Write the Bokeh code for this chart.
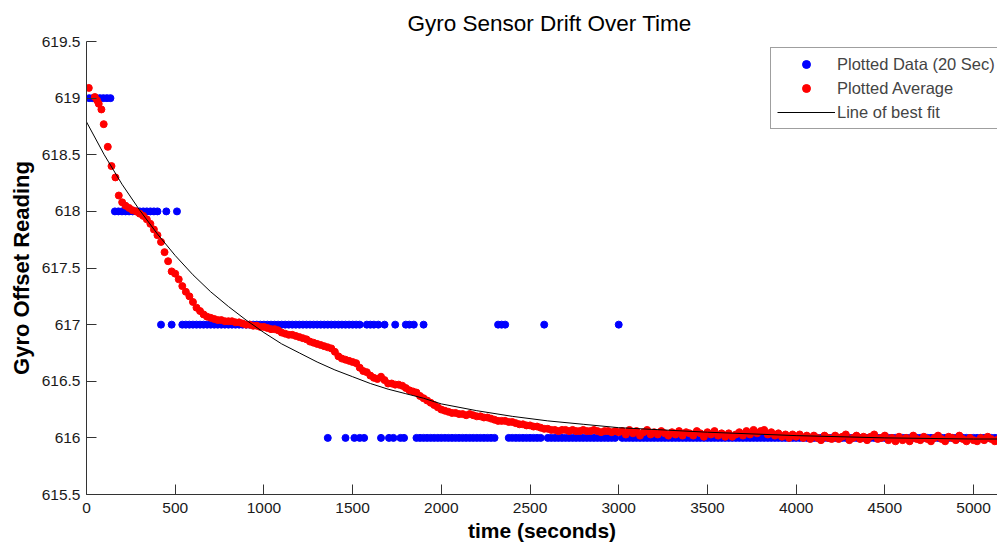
from bokeh.plotting import figure
from bokeh.models import FixedTicker, CustomJSTickFormatter
from bokeh.embed import file_html
from bokeh.resources import INLINE

# ---------------- data ----------------
title_text = "Gyro Sensor Drift Over Time"
x_label = "time (seconds)"
y_label = "Gyro Offset Reading"
legend_labels = ["Plotted Data (20 Sec)", "Plotted Average", "Line of best fit"]

x_ticks = [0, 500, 1000, 1500, 2000, 2500, 3000, 3500, 4000, 4500, 5000]
y_ticks = [615.5, 616, 616.5, 617, 617.5, 618, 618.5, 619, 619.5]

# raw readings (integer levels) - times (s) at which each level was read
blue_t_619 = [15, 35, 55, 75, 95, 115, 135]
blue_t_618 = [160, 180, 200, 220, 240, 260, 280, 300, 320, 340, 360, 380, 400, 450, 510]
blue_t_617 = [420, 480,
              540, 560, 580, 600, 620, 640, 660, 680, 700, 720,
              740, 760, 780, 800, 820, 840, 860, 880, 900, 920,
              940, 960, 980, 1000, 1020, 1040, 1060, 1080, 1100, 1120,
              1140, 1160, 1180, 1200, 1220, 1240, 1260, 1280, 1300, 1320,
              1340, 1360, 1380, 1400, 1420, 1440, 1460, 1480, 1500, 1520, 1540,
              1580, 1600, 1620, 1645, 1680, 1740, 1800, 1820, 1845, 1900,
              2320, 2340, 2360, 2580, 3000]
blue_t_616 = [1360, 1460, 1510, 1540, 1565, 1660, 1705, 1730, 1770, 1790,
              1860, 1880, 1900, 1920, 1940, 1960, 1980, 2000,
              2020, 2040, 2060, 2080, 2100, 2120, 2140, 2160, 2180, 2200,
              2220, 2240, 2260, 2280, 2300, 2380, 2400,
              2420, 2440, 2460, 2480, 2500, 2520, 2540, 2560, 2600,
              2620, 2640, 2660, 2680, 2700, 2720, 2740, 2760, 2780, 2800,
              2820, 2840, 2860, 2880, 2900, 2920, 2940, 2960, 2980,
              3020, 3040, 3060, 3080, 3100, 3120, 3140, 3160, 3180, 3200,
              3220, 3240, 3260, 3280, 3300, 3320, 3340, 3360, 3380, 3400,
              3420, 3440, 3460, 3480, 3500, 3520, 3540, 3560, 3580, 3600,
              3620, 3640, 3660, 3680, 3700, 3720, 3740, 3760, 3780, 3800,
              3820, 3840, 3860, 3880, 3900, 3920, 3940, 3960, 3980, 4000,
              4020, 4040, 4060, 4080, 4100, 4120, 4140, 4160, 4180, 4200,
              4220, 4240, 4260, 4280, 4300, 4320, 4340, 4360, 4380, 4400,
              4420, 4440, 4460, 4480, 4500, 4520, 4540, 4560, 4580, 4600,
              4620, 4640, 4660, 4680, 4700, 4720, 4740, 4760, 4780, 4800,
              4820, 4840, 4860, 4880, 4900, 4920, 4940, 4960, 4980, 5000,
              5020, 5040, 5060, 5080, 5100, 5120, 5140]

# running average
red_time = [13, 47, 60, 69, 84, 97, 120, 141, 163, 182, 201,
            220, 240, 260, 280, 300, 320, 340, 360, 380, 400,
            420, 440, 460, 480, 500, 520, 540, 560, 580, 600,
            620, 640, 660, 680, 700, 720, 740, 760, 780, 800,
            820, 840, 860, 880, 900, 920, 940, 960, 980, 1000,
            1020, 1040, 1060, 1080, 1100, 1120, 1140, 1160, 1180, 1200,
            1220, 1240, 1260, 1280, 1300, 1320, 1340, 1360, 1380, 1400,
            1420, 1440, 1460, 1480, 1500, 1520, 1540, 1560, 1580, 1600,
            1620, 1640, 1660, 1680, 1700, 1720, 1740, 1760, 1780, 1800,
            1820, 1840, 1860, 1880, 1900, 1920, 1940, 1960, 1980, 2000,
            2020, 2040, 2060, 2080, 2100, 2120, 2140, 2160, 2180, 2200,
            2220, 2240, 2260, 2280, 2300, 2320, 2340, 2360, 2380, 2400,
            2420, 2440, 2460, 2480, 2500, 2520, 2540, 2560, 2580, 2600,
            2620, 2640, 2660, 2680, 2700, 2720, 2740, 2760, 2780, 2800,
            2820, 2840, 2860, 2880, 2900, 2920, 2940, 2960, 2980, 3000,
            3020, 3040, 3060, 3080, 3100, 3120, 3140, 3160, 3180, 3200,
            3220, 3240, 3260, 3280, 3300, 3320, 3340, 3360, 3380, 3400,
            3420, 3440, 3460, 3480, 3500, 3520, 3540, 3560, 3580, 3600,
            3620, 3640, 3660, 3680, 3700, 3720, 3740, 3760, 3780, 3800,
            3820, 3840, 3860, 3880, 3900, 3920, 3940, 3960, 3980, 4000,
            4020, 4040, 4060, 4080, 4100, 4120, 4140, 4160, 4180, 4200,
            4220, 4240, 4260, 4280, 4300, 4320, 4340, 4360, 4380, 4400,
            4420, 4440, 4460, 4480, 4500, 4520, 4540, 4560, 4580, 4600,
            4620, 4640, 4660, 4680, 4700, 4720, 4740, 4760, 4780, 4800,
            4820, 4840, 4860, 4880, 4900, 4920, 4940, 4960, 4980, 5000,
            5020, 5040, 5060, 5080, 5100, 5120, 5140]
red_value = [619.09, 619.01, 618.98, 618.95, 618.90, 618.77, 618.57, 618.40, 618.30, 618.14, 618.08,
             618.05, 618.03, 618.01, 618.00, 617.98, 617.96, 617.93, 617.89, 617.84, 617.79,
             617.73, 617.64, 617.56, 617.47, 617.45, 617.40, 617.34, 617.29, 617.25, 617.20,
             617.15, 617.12, 617.09, 617.07, 617.06, 617.05, 617.04, 617.04, 617.03, 617.03,
             617.03, 617.02, 617.02, 617.01, 617.00, 617.00, 616.99, 616.99, 616.98, 616.98,
             616.97, 616.96, 616.96, 616.95, 616.93, 616.92, 616.91, 616.91, 616.90, 616.89,
             616.88, 616.87, 616.85, 616.84, 616.83, 616.82, 616.81, 616.80, 616.79, 616.76,
             616.72, 616.70, 616.69, 616.68, 616.67, 616.66, 616.62, 616.59, 616.58, 616.55,
             616.53, 616.52, 616.54, 616.51, 616.48, 616.48, 616.47, 616.47, 616.46, 616.44,
             616.42, 616.41, 616.40, 616.37, 616.35, 616.33, 616.31, 616.29, 616.27, 616.25,
             616.24, 616.23, 616.22, 616.22, 616.21, 616.21, 616.20, 616.21, 616.20, 616.19,
             616.19, 616.18, 616.18, 616.17, 616.16, 616.15, 616.15, 616.15, 616.14, 616.14,
             616.13, 616.12, 616.12, 616.11, 616.11, 616.10, 616.10, 616.09, 616.08, 616.08,
             616.07, 616.07, 616.06, 616.07, 616.07, 616.06, 616.07, 616.06, 616.06, 616.07,
             616.06, 616.06, 616.07, 616.06, 616.05, 616.06, 616.06, 616.05, 616.06, 616.05,
             616.06, 616.03, 616.07, 616.04, 616.06, 616.02, 616.05, 616.07, 616.03, 616.05,
             616.03, 616.06, 616.04, 616.02, 616.05, 616.03, 616.06, 616.02, 616.05, 616.04,
             616.02, 616.06, 616.04, 616.01, 616.05, 616.03, 616.06, 616.02, 616.04, 616.01,
             616.04, 616.01, 616.03, 616.05, 616.02, 616.06, 616.03, 616.07, 616.04, 616.06,
             616.07, 616.03, 616.05, 616.02, 616.04, 616.01, 616.03, 616.00, 616.03, 616.01,
             616.03, 616.00, 616.02, 615.99, 616.02, 616.00, 615.98, 616.02, 616.00, 615.99,
             616.02, 615.99, 616.01, 616.03, 615.98, 616.00, 616.02, 615.99, 616.01, 615.98,
             616.01, 616.03, 615.99, 616.00, 616.02, 615.98, 616.00, 615.97, 616.01, 615.98,
             616.00, 615.97, 616.02, 615.99, 615.98, 616.01, 615.99, 615.97, 616.00, 616.02,
             615.99, 615.97, 616.01, 616.00, 615.98, 616.02, 615.99, 615.97, 616.00, 615.98,
             615.97, 616.00, 615.98, 616.01, 615.99, 615.97, 615.99]

# line of best fit
fit_time = [0, 100, 200, 300, 400, 500, 600, 700, 800, 900, 1000,
            1100, 1200, 1300, 1400, 1500, 1600, 1700, 1800, 1900, 2000,
            2200, 2400, 2600, 2800, 3000, 3500, 4000, 4500, 5000, 5200]
fit_value = [618.79, 618.50, 618.24, 618.01, 617.80, 617.61, 617.44, 617.29, 617.16, 617.04, 616.93,
             616.83, 616.75, 616.67, 616.60, 616.54, 616.48, 616.43, 616.39, 616.35, 616.30,
             616.24, 616.19, 616.15, 616.12, 616.09, 616.05, 616.02, 616.00, 615.99, 615.99]

# ---------------- figure ----------------
FONT = "Liberation Sans"

blue_time = blue_t_619 + blue_t_618 + blue_t_617 + blue_t_616
blue_value = ([619] * len(blue_t_619) + [618] * len(blue_t_618)
              + [617] * len(blue_t_617) + [616] * len(blue_t_616))

p = figure(width=997, height=544, x_range=(0, 5135), y_range=(615.5, 619.5),
           output_backend="svg", toolbar_location=None,
           min_border_left=86, min_border_right=0, min_border_top=41, min_border_bottom=50)

p.outline_line_color = None
p.grid.visible = False
p.background_fill_color = "white"
p.border_fill_color = "white"

p.scatter(blue_time, blue_value, size=7, marker="circle", fill_color="#0000ff",
          line_color="#0000ff", legend_label=legend_labels[0])
p.scatter(red_time, red_value, size=7, marker="circle", fill_color="#ff0000",
          line_color="#ff0000", legend_label=legend_labels[1])
p.line(fit_time, fit_value, line_color="black", line_width=1, legend_label=legend_labels[2])

# title
p.title.text = title_text
p.title.text_font = FONT
p.title.text_font_size = "22.5px"
p.title.text_font_style = "normal"
p.title.text_color = "black"
p.title.align = "left"
p.title.offset = 321
p.title.vertical_align = "top"
p.title.standoff = 8

# axes
for ax in (p.xaxis[0], p.yaxis[0]):
    ax.major_tick_in = 10
    ax.major_tick_out = 0
    ax.minor_tick_line_color = None
    ax.axis_line_color = "#333333"
    ax.major_tick_line_color = "#333333"
    ax.major_label_text_font = FONT
    ax.major_label_text_font_size = "15.5px"
    ax.major_label_text_color = "#1a1a1a"
    ax.axis_label_text_font = FONT
    ax.axis_label_text_font_style = "bold"
    ax.axis_label_text_color = "black"

p.xaxis.axis_label_text_font_size = "21px"
p.yaxis.axis_label_text_font_size = "22px"
p.xaxis.ticker = FixedTicker(ticks=x_ticks)
p.yaxis.ticker = FixedTicker(ticks=y_ticks)
p.yaxis.formatter = CustomJSTickFormatter(code="return String(Number(tick.toFixed(1)));")
p.xaxis.axis_label = x_label
p.yaxis.axis_label = y_label
p.xaxis.major_label_standoff = 8
p.xaxis.axis_label_standoff = 3
p.yaxis.major_label_standoff = 6
p.yaxis.axis_label_standoff = 5

# legend
lg = p.legend[0]
lg.location = (684, 365)
lg.padding = 6
lg.spacing = 4
lg.margin = 0
lg.glyph_width = 58
lg.glyph_height = 20
lg.label_height = 20
lg.label_standoff = 2
lg.label_text_font = FONT
lg.label_text_font_size = "16.5px"
lg.border_line_color = "#404040"
lg.border_line_width = 1
lg.background_fill_alpha = 1.0

open("out.html", "w").write(file_html(p, INLINE))
